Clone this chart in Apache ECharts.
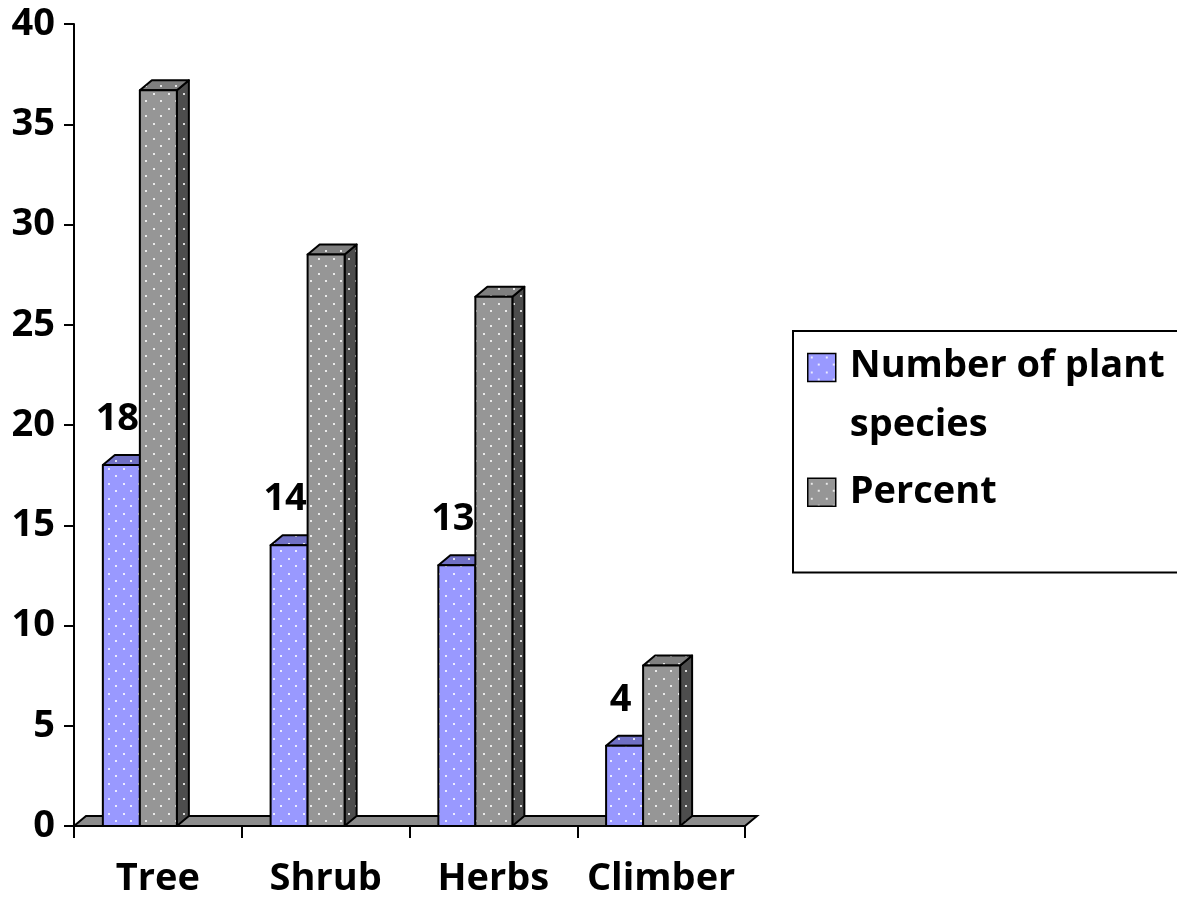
<!DOCTYPE html>
<html><head><meta charset="utf-8">
<script src="https://cdn.jsdelivr.net/npm/echarts@6/dist/echarts.min.js"></script>
<style>html,body{margin:0;padding:0;background:#fff}#c{width:1177px;height:898px}</style>
</head><body><div id="c"></div><script>
const categories = ['Tree', 'Shrub', 'Herbs', 'Climber'];
const speciesCount = [18, 14, 13, 4];
const percentValues = [36.7, 28.5, 26.4, 8.0];
const seriesNames = ['Number of plant species', 'Percent'];

function makePattern(base) {
  const cv = document.createElement('canvas');
  cv.width = 15; cv.height = 15;
  const g = cv.getContext('2d');
  g.fillStyle = base; g.fillRect(0, 0, 15, 15);
  g.fillStyle = 'rgba(255,255,255,0.8)';
  g.fillRect(3, 3, 2, 2);
  g.fillRect(10, 10, 2, 2);
  return { image: cv, repeat: 'repeat' };
}
const FONT = 'Open Sans';
const FS = 38;
const blueFront = makePattern('#9999ff');
const grayFront = makePattern('#969696');
const faces = [
  { front: blueFront, top: makePattern('#7070c4'), side: makePattern('#4c4c88') },
  { front: grayFront, top: makePattern('#7f7f7f'), side: makePattern('#4d4d4d') }
];
const DX = 12, DY = 10;

function barRender(kind) {
  return function (params, api) {
    const i = api.value(0), v = api.value(1);
    const base = api.coord([i, 0]);
    const top = api.coord([i, v]);
    const bw = api.size([1, 0])[0];
    const w = bw * 0.2206;
    const x0 = base[0] - bw * 0.328 + kind * w;
    const x1 = x0 + w;
    const yb = base[1], yt = top[1];
    const st = { stroke: '#000', lineWidth: 2, lineJoin: 'round' };
    const f = faces[kind];
    const children = [
      { type: 'polygon', shape: { points: [[x1, yb], [x1 + DX, yb - DY], [x1 + DX, yt - DY], [x1, yt]] }, style: Object.assign({ fill: f.side }, st) },
      { type: 'polygon', shape: { points: [[x0, yt], [x0 + DX, yt - DY], [x1 + DX, yt - DY], [x1, yt]] }, style: Object.assign({ fill: f.top }, st) },
      { type: 'rect', shape: { x: x0, y: yt, width: w, height: yb - yt }, style: Object.assign({ fill: f.front }, st) }
    ];
    if (kind === 0) {
      children.unshift({ type: 'text', style: { text: String(v), x: (x0 + x1) / 2 - 4, y: yt - 46, align: 'center', verticalAlign: 'middle', font: 'bold ' + FS + 'px "' + FONT + '"', fill: '#000' } });
    }
    return { type: 'group', children };
  };
}

const chart = echarts.init(document.getElementById('c'));
chart.setOption({
  animation: false,
  backgroundColor: '#fff',
  grid: { left: 74, top: 24, width: 671, bottom: 72, containLabel: false },
  xAxis: {
    type: 'category', data: categories,
    axisLine: { lineStyle: { color: '#000', width: 2 } },
    axisTick: { show: true, length: 12, interval: 0, lineStyle: { color: '#000', width: 2 } },
    axisLabel: { margin: 34, color: '#000', fontSize: FS, fontWeight: 'bold', fontFamily: FONT, interval: 0 },
    splitLine: { show: false }
  },
  yAxis: {
    type: 'value', min: 0, max: 40, interval: 5,
    axisLine: { show: true, lineStyle: { color: '#000', width: 2 } },
    axisTick: { show: true, length: 10, lineStyle: { color: '#000', width: 2 } },
    axisLabel: { margin: 19, color: '#000', fontSize: FS, fontWeight: 'bold', fontFamily: FONT },
    splitLine: { show: false }
  },
  legend: {
    orient: 'vertical', left: 793, top: 331, itemWidth: 28, itemHeight: 85, itemGap: -6,
    padding: [6, 80, 37, 14], borderColor: '#000', borderWidth: 2, backgroundColor: '#fff',
    selectedMode: false,
    textStyle: { fontSize: FS, fontWeight: 'bold', fontFamily: FONT, color: '#000', lineHeight: 59, padding: [0, 0, 0, 9] },
    formatter: function (n) { return n === seriesNames[0] ? 'Number of plant\nspecies' : n; },
    data: [
      { name: seriesNames[0], icon: 'path://M0 0H28V28H0Z M0 85', itemStyle: { color: blueFront, borderColor: '#000', borderWidth: 1.5 } },
      { name: seriesNames[1], icon: 'path://M0 28.5H28V56.5H0Z M0 0 M0 85', itemStyle: { color: grayFront, borderColor: '#000', borderWidth: 1.5 } }
    ]
  },
  series: [
    {
      type: 'custom', name: 'floor', z: 1, silent: true, data: [[0, 0]],
      renderItem: function (params, api) {
        const cs = params.coordSys;
        const yb = cs.y + cs.height, xl = cs.x, xr = cs.x + cs.width;
        return { type: 'polygon', shape: { points: [[xl, yb], [xr, yb], [xr + DX, yb - DY], [xl + DX, yb - DY]] }, style: { fill: '#8c8c8c', stroke: '#000', lineWidth: 2 } };
      }
    },
    {
      type: 'custom', name: seriesNames[0], z: 2, renderItem: barRender(0),
      itemStyle: { color: blueFront },
      encode: { x: 0, y: 1 },
      data: categories.map((c, i) => [i, speciesCount[i]])
    },
    {
      type: 'custom', name: seriesNames[1], z: 2, renderItem: barRender(1),
      itemStyle: { color: grayFront },
      encode: { x: 0, y: 1 },
      data: categories.map((c, i) => [i, percentValues[i]])
    }
  ]
});
</script></body></html>
